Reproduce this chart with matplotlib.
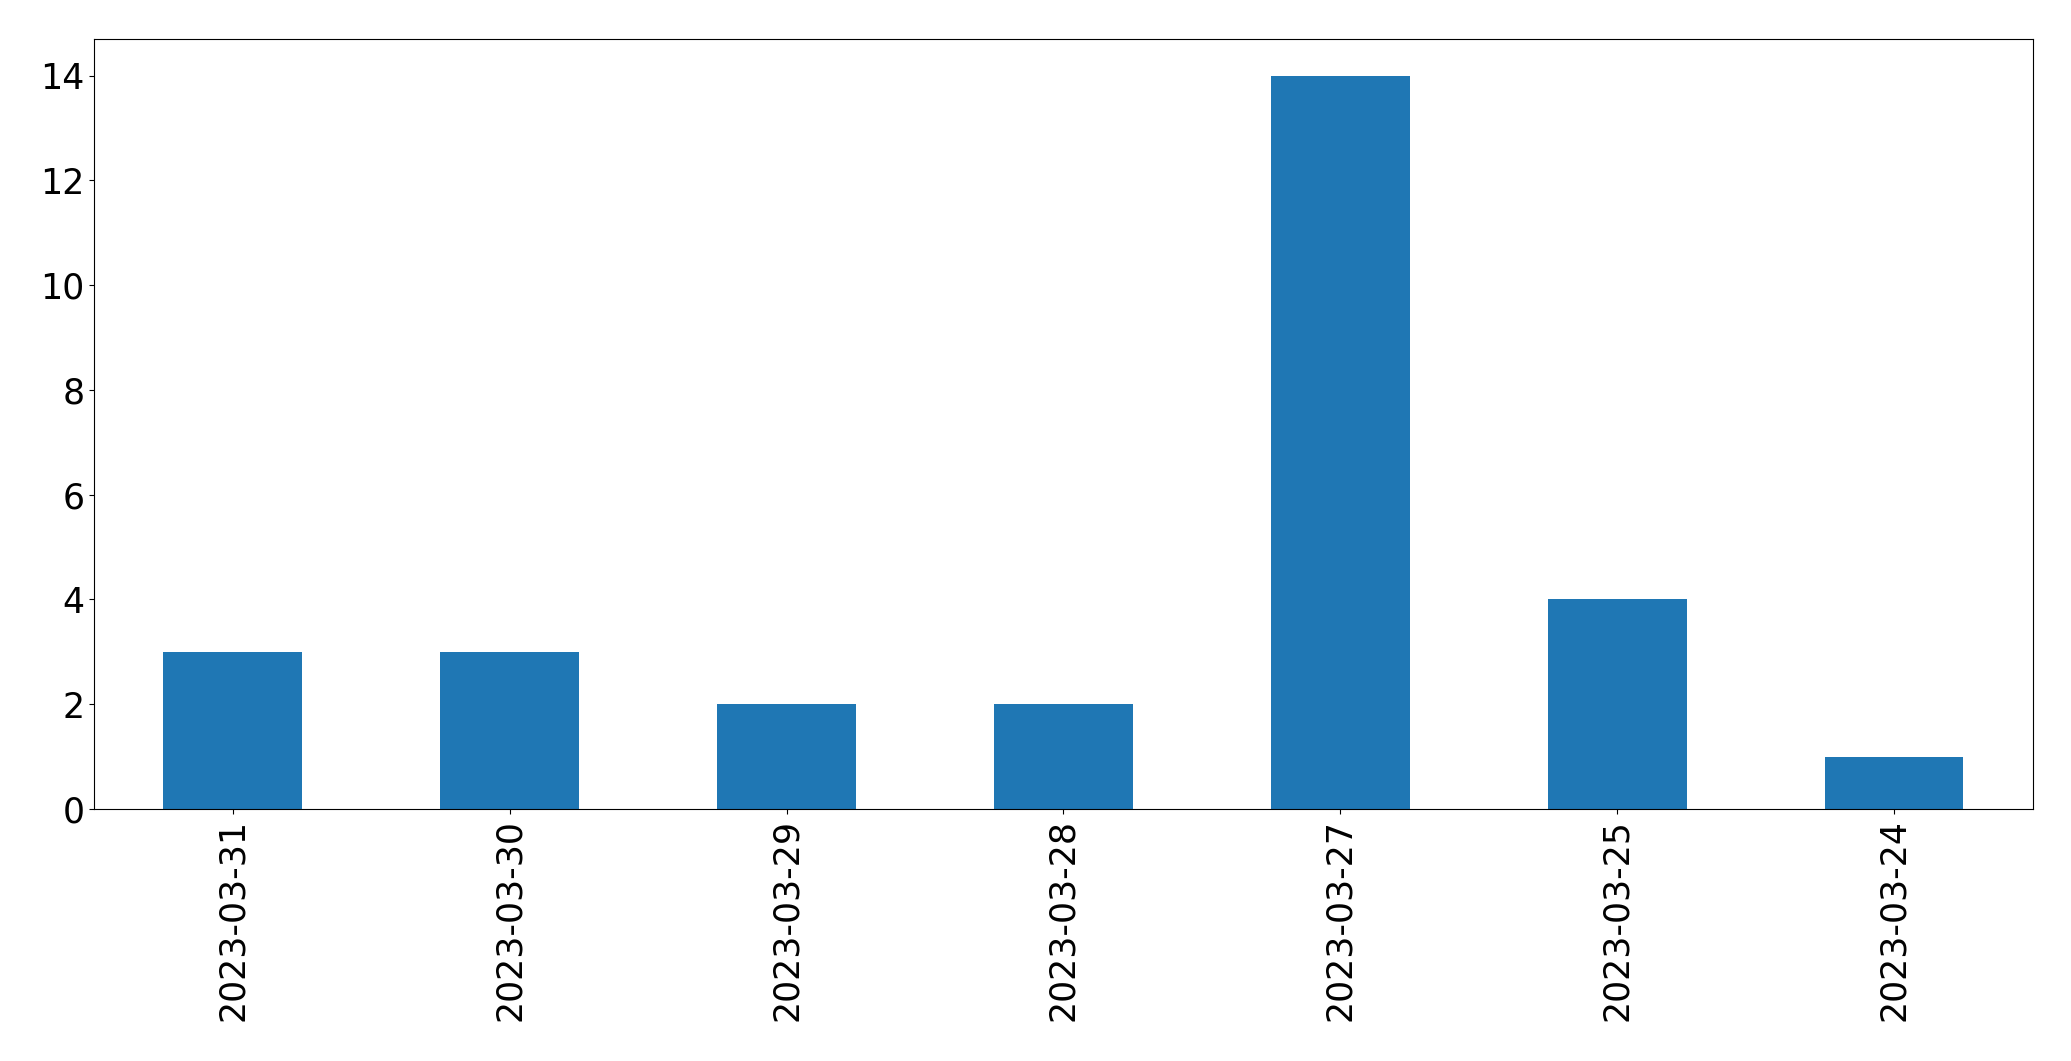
import pandas as pd
import matplotlib
matplotlib.use("Agg")
import matplotlib.pyplot as plt

# fechas y conteos
dates = ["2023-03-31", "2023-03-30", "2023-03-29", "2023-03-28",
         "2023-03-27", "2023-03-25", "2023-03-24"]
counts = [3, 3, 2, 2, 14, 4, 1]

serie = pd.Series(counts, index=dates)

fig, ax = plt.subplots(figsize=(20.714, 10.614), dpi=100)
serie.plot(kind="bar", ax=ax, color="#1f77b4", fontsize=25)
ax.tick_params(axis="x", labelrotation=90)

fig.subplots_adjust(left=0.0455, right=0.9813, top=0.963, bottom=0.2375)
fig.savefig("out.png", dpi=100)
